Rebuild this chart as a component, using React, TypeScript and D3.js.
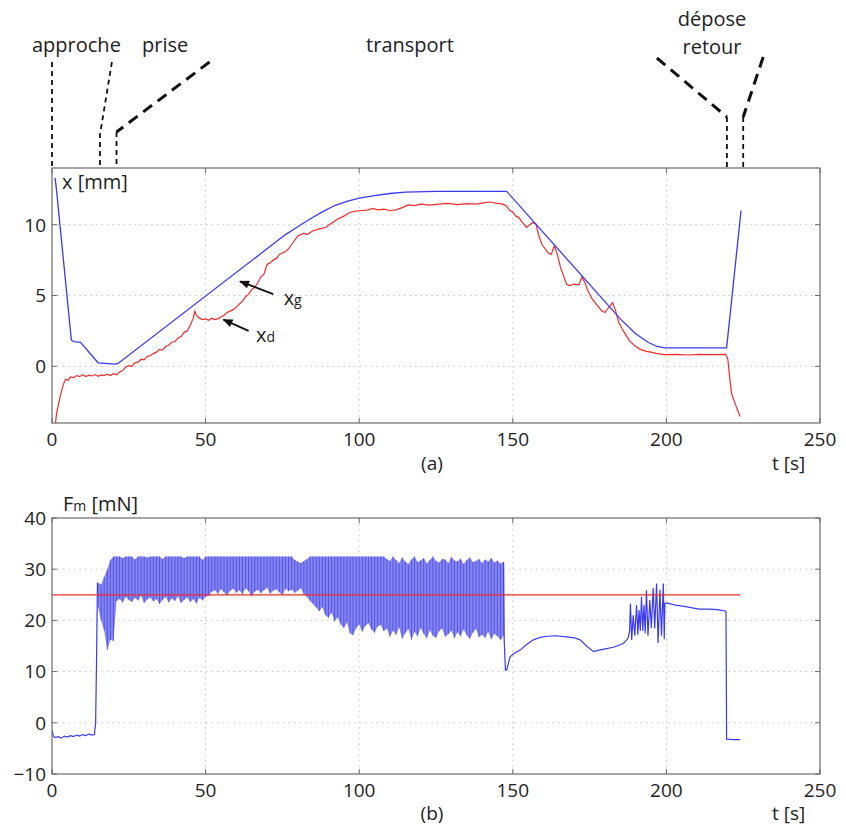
import React from 'react';
import * as d3 from 'd3';

// ---------- data ----------
const xTicks = [0, 50, 100, 150, 200, 250];
const xTickLabels = ['0', '50', '100', '150', '200', '250'];
const topYTicks = [0, 5, 10];
const topYTickLabels = ['0', '5', '10'];
const botYTicks = [-10, 0, 10, 20, 30, 40];
const botYTickLabels = ['\u221210', '0', '10', '20', '30', '40'];

const phaseNames = ['approche', 'prise', 'transport', 'dépose', 'retour'];
const phaseTimes = [0, 15.6, 21, 219.7, 225];

// x_g (blue) [t, mm]
const xgSeries: [number, number][] = [
  [1.0, 13.3], [1.4, 12.6], [6.3, 1.85], [7.2, 1.75], [9.3, 1.7], [15.0, 0.25], [20.5, 0.15], [21.5, 0.2],
  [76, 9.3], [80, 9.85], [84, 10.4], [88, 10.9], [92, 11.35], [96, 11.65], [100, 11.87], [105, 12.05],
  [110, 12.2], [115, 12.3], [125, 12.35], [148, 12.35], [185, 3.35], [190, 2.3], [194, 1.7], [197, 1.4],
  [199.5, 1.3], [219.6, 1.3], [224.3, 11.0],
];

// x_d (red) [t, mm]
const xdSeries: [number, number][] = [
  [1.0, -4.3], [1.5, -3.3], [2.2, -2.6], [2.8, -2.0], [3.4, -1.5], [4.0, -1.1], [4.5, -0.9], [5.2, -1.0],
  [6.0, -0.75], [7.0, -0.8], [8, -0.65], [9, -0.72], [10, -0.6], [11, -0.72], [12, -0.62], [13, -0.68],
  [14, -0.58], [15, -0.7], [16, -0.6], [17, -0.66], [18, -0.55], [19, -0.65], [20, -0.52], [21, -0.6],
  [22, -0.4], [23, -0.3], [24, -0.05], [25, 0.05], [26, 0.0], [27, 0.25], [28, 0.3], [29, 0.5], [30, 0.45],
  [31, 0.7], [32, 0.75], [33, 0.9], [34, 1.0], [35, 1.2], [36, 1.15], [37, 1.4], [38, 1.5], [39, 1.7],
  [40, 1.75], [41, 2.0], [42, 2.1], [43, 2.4], [44, 2.5], [45, 2.9], [46, 3.4], [46.5, 3.9], [47, 3.6],
  [48, 3.4], [49, 3.3], [50, 3.35], [51, 3.25], [52, 3.4], [53, 3.3], [54, 3.35], [55, 3.5], [56, 3.6],
  [57, 3.8], [58, 3.9], [59, 4.0], [60, 4.2], [61, 4.4], [62, 4.6], [63, 4.9], [64, 5.1], [65, 5.4],
  [66, 5.6], [67, 5.9], [68, 6.3], [69, 6.5], [70, 7.2], [71, 7.3], [72, 7.5], [73, 7.6], [74, 7.9],
  [75, 8.0], [76, 8.1], [77, 8.3], [78, 8.6], [79, 8.9], [80, 9.2], [82, 9.4], [83, 9.3], [85, 9.57],
  [87, 9.7], [89, 9.8], [91, 10.1], [93, 10.4], [95, 10.6], [97, 10.88], [99, 10.95], [101, 11.0],
  [103, 11.05], [104.5, 11.15], [106, 11.05], [108, 11.1], [110, 11.0], [112, 11.04], [114, 11.2],
  [116, 11.4], [118, 11.35], [120, 11.45], [123, 11.38], [126, 11.45], [129, 11.5], [132, 11.42],
  [135, 11.48], [138, 11.45], [140, 11.52], [142.5, 11.6], [145, 11.5], [146.8, 11.45], [148, 11.3],
  [149, 11.0], [150, 10.9], [151, 10.6], [152, 10.5], [153, 10.2], [154.5, 9.8], [155.5, 10.0],
  [156.5, 10.15], [157.5, 10.05], [158.5, 9.2], [159.5, 8.6], [160.5, 8.3], [161.5, 8.0], [162.5, 7.9],
  [163.5, 8.5], [164.5, 7.9], [165.5, 7.0], [166.5, 6.4], [167.5, 5.8], [168.5, 5.7], [170, 5.8],
  [171.5, 5.75], [172.5, 6.3], [173.5, 5.9], [174.5, 5.3], [176, 4.7], [177.5, 4.3], [179, 3.9],
  [180, 3.8], [181, 4.1], [182.5, 4.5], [183.5, 3.9], [184.5, 3.1], [186, 2.5], [188, 1.8], [190, 1.4],
  [191.5, 1.2], [193.5, 1.06], [195, 1.0], [197, 0.9], [199.5, 0.83], [203, 0.85], [207, 0.8],
  [211, 0.85], [215, 0.82], [219.3, 0.85], [220, 0.5], [220.6, -0.8], [221.2, -1.9], [222, -2.4],
  [223, -3.0], [224, -3.55],
];

// F_m before the oscillating phase [t, mN]
const fmStart: [number, number][] = [
  [0, -1.5], [0.5, -2.6], [1, -2.9], [2, -2.7], [3, -3.0], [4, -2.6], [5, -2.8], [6, -2.5], [7, -2.7],
  [8, -2.4], [9, -2.6], [10, -2.3], [11, -2.5], [12, -2.2], [13, -2.4], [13.8, -2.3], [14.2, 0],
  [14.5, 12], [14.8, 27.3], [15, 27.3],
];
// oscillating phase: one trough/peak per second from t = 15 s
const fmOscStart = 15;
const fmOscLow = [
  22.7, 20, 18, 14.2, 16.2, 16,
  23.8, 24.2, 23.5, 24.6, 24.0, 23.6, 24.4, 23.9, 24.8, 23.4, 24.1, 24.5, 23.7, 24.2, 23.2,
  24.0, 24.6, 23.5, 24.3, 23.8, 24.7, 23.4, 24.0, 24.5, 23.6, 24.2, 23.3, 24.4, 23.9, 24.6,
  24.8, 25.6, 25.9, 25.2, 26.1, 25.5, 24.9, 25.8, 26.2, 25.4, 25.9, 25.1, 26.3, 25.7, 24.7,
  25.6, 26.0, 25.3, 25.9, 26.4, 25.2, 25.8, 26.1, 25.5, 24.9, 26.2, 25.7, 26.0, 25.4, 25.8,
  26.3, 25.1, 24.6, 23.8,
  23.2, 22.5, 21.8, 22.6, 21.0, 20.5, 21.5, 19.8, 20.6, 19.2, 18.5, 19.6, 17.5, 17.1,
  18.5, 19.2, 17.8, 18.9, 19.5, 18.2, 17.6, 18.8, 19.1, 17.9, 18.4, 16.8, 18.0, 17.2, 18.6,
  16.4, 17.5, 18.3, 16.2, 17.8, 16.9, 18.5, 17.4, 16.5, 18.1, 17.0, 16.6, 17.9, 18.4, 16.8,
  17.3, 18.0, 16.5, 17.7, 16.9, 18.2, 17.1, 16.4, 17.6, 18.3, 16.7, 17.2, 16.6, 17.8, 16.3,
  17.4, 16.9, 16.2, 17.0,
];
const fmOscHigh = [
  27.3, 27, 28.5, 30, 31.8, 32.5,
  32.5, 32.5, 32.2, 32.5, 32.5, 32.5, 31.9, 32.5, 32.5, 32.5, 32.3, 32.5, 32.5, 32.5, 32.5,
  32.0, 32.5, 32.5, 32.5, 32.5, 32.5, 32.5, 32.2, 32.5, 32.5, 32.5, 32.5, 32.5, 31.8, 32.5,
  32.5, 32.5, 32.5, 32.5, 32.5, 32.5, 32.5, 32.5, 32.5, 32.5, 32.5, 32.5, 32.5, 32.5, 32.5,
  32.5, 32.5, 32.5, 32.5, 32.5, 32.5, 32.5, 32.5, 32.5, 32.5, 32.5, 32.5, 32.5, 31.8, 31.5,
  31.2, 31.6, 32.0, 32.5,
  32.5, 32.5, 32.5, 32.5, 32.5, 32.5, 32.5, 32.5, 32.5, 32.5, 32.5, 32.5, 32.5, 32.5,
  32.5, 32.5, 32.5, 32.5, 32.5, 32.5, 32.5, 32.5, 32.5, 32.5,
  32.0, 31.6, 32.5, 31.8, 31.2, 32.3, 31.5, 31.0, 31.9, 32.5, 31.4, 31.7, 32.2, 31.1, 31.8,
  32.5, 31.6, 31.3, 32.0, 31.9, 31.2, 32.4, 31.7, 31.5, 32.1, 31.0, 31.8, 32.3, 31.4, 31.6,
  32.0, 31.2, 31.9, 31.5, 32.2, 31.3, 31.7, 31.1, 31.4,
];
// F_m after the oscillating phase [t, mN]
const fmEnd: [number, number][] = [
  [147, 31.4], [147.2, 16.2], [147.6, 10.3], [148, 10.3], [149.1, 12.9], [150.5, 13.6], [152.4, 14.2],
  [154.5, 15.3], [156.7, 16.2], [159, 16.7], [161.1, 16.9], [164, 17.0], [167.6, 16.8], [170, 16.6],
  [171.9, 16.2], [174, 15.0], [176.3, 13.9], [178, 14.2], [180.6, 14.5], [183, 14.8], [186, 15.5],
  [187.5, 16.5], [188.0, 17.8], [188.3, 23.3], [188.7, 16.2], [189.2, 21], [189.7, 17], [190.3, 23],
  [190.7, 17.2], [191.1, 22], [191.5, 18], [191.9, 24.6], [192.3, 18], [192.7, 23], [193.1, 17.5],
  [193.5, 25.9], [194, 17], [194.6, 24], [195.1, 18.5], [195.7, 26.3], [196.2, 18.4], [196.8, 27.2],
  [197.3, 15.6], [197.9, 26], [198.4, 17], [199, 27.2], [199.3, 16.3], [199.5, 23.3], [200, 23.4],
  [203, 23.0], [206.3, 22.7], [210.6, 22.2], [214, 22.2], [216.6, 22.1], [219.4, 21.8], [219.6, -3.2],
  [222, -3.3], [224, -3.3],
];
const fmRef = 25;
const fmRefRange = [0, 224];

// ---------- layout ----------
const W = 846, H = 830;
const FONT = "'Open Sans', 'DejaVu Sans', sans-serif";
const BLUE = '#3a3af2';
const RED = '#ef2b2b';
const X0 = 52, X1 = 820;
const TOP = { y0: 168, y1: 423 };
const BOT = { y0: 518, y1: 774 };

const xs = d3.scaleLinear().domain([0, 250]).range([X0, X1]);
const yTop = d3.scaleLinear().domain([-4, 14]).range([TOP.y1, TOP.y0]);
const yBot = d3.scaleLinear().domain([-10, 40]).range([BOT.y1, BOT.y0]);

function Frame({ y, y0, y1, gridY }: any) {
  return (
    <g>
      {xTicks.filter((t) => t > 0 && t < 250).map((t) => (
        <line key={'gx' + t} x1={xs(t)} x2={xs(t)} y1={y0} y2={y1} stroke="#c4c4c4" strokeWidth={1} strokeDasharray="1.5,4" />
      ))}
      {gridY.map((v: number) => (
        <line key={'gy' + v} x1={X0} x2={X1} y1={y(v)} y2={y(v)} stroke="#c4c4c4" strokeWidth={1} strokeDasharray="1.5,4" />
      ))}
    </g>
  );
}

function Axes({ y, y0, y1, yTicks, yLabels }: any) {
  return (
    <g>
      <rect x={X0} y={y0} width={X1 - X0} height={y1 - y0} fill="none" stroke="#6a6a6a" strokeWidth={1.2} />
      {xTicks.map((t, i) => (
        <g key={'xt' + t}>
          <line x1={xs(t)} x2={xs(t)} y1={y1} y2={y1 - 5} stroke="#6a6a6a" />
          <line x1={xs(t)} x2={xs(t)} y1={y0} y2={y0 + 5} stroke="#6a6a6a" />
          <text x={xs(t)} y={y1 + 23} textAnchor="middle" fontSize={19} fontFamily={FONT} fill="#222">{xTickLabels[i]}</text>
        </g>
      ))}
      {yTicks.map((v: number, i: number) => (
        <g key={'yt' + v}>
          <line x1={X0} x2={X0 + 5} y1={y(v)} y2={y(v)} stroke="#6a6a6a" />
          <line x1={X1} x2={X1 - 5} y1={y(v)} y2={y(v)} stroke="#6a6a6a" />
          <text x={46} y={y(v)} dy="0.36em" textAnchor="end" fontSize={19} fontFamily={FONT} fill="#222">{yLabels[i]}</text>
        </g>
      ))}
    </g>
  );
}

export default function App() {
  const lineTop = d3.line<[number, number]>().x((d) => xs(d[0])).y((d) => yTop(d[1]));
  const lineBot = d3.line<[number, number]>().x((d) => xs(d[0])).y((d) => yBot(d[1]));
  const oscIdx = fmOscLow.map((_, i) => i);
  const band = d3.area<number>()
    .x((i) => xs(fmOscStart + i))
    .y0((i) => yBot(fmOscLow[i]))
    .y1((i) => yBot(fmOscHigh[i]));

  const thin = { stroke: '#111', strokeWidth: 1.8, strokeDasharray: '5,4', fill: 'none' };
  const thick = { stroke: '#111', strokeWidth: 3, strokeDasharray: '11,7', fill: 'none' };
  const xp = phaseTimes.map((t) => xs(t));

  return (
    <svg width={W} height={H} style={{ position: 'absolute', left: 0, top: 0, display: 'block', background: '#fff' }}>
      <defs>
        <clipPath id="clipTop"><rect x={X0} y={TOP.y0} width={X1 - X0} height={TOP.y1 - TOP.y0} /></clipPath>
        <clipPath id="clipBot"><rect x={X0} y={BOT.y0} width={X1 - X0} height={BOT.y1 - BOT.y0} /></clipPath>
        <marker id="arr" viewBox="0 0 10 8" refX="9" refY="4" markerWidth="11" markerHeight="8" markerUnits="userSpaceOnUse" orient="auto">
          <path d="M0,0 L10,4 L0,8 z" fill="#111" />
        </marker>
      </defs>

      {/* phase annotations */}
      <g fontFamily={FONT} fontSize={20} fill="#222">
        <text x={32} y={52}>{phaseNames[0]}</text>
        <text x={142} y={52}>{phaseNames[1]}</text>
        <text x={410} y={52} textAnchor="middle">{phaseNames[2]}</text>
        <text x={712} y={26} textAnchor="middle">{phaseNames[3]}</text>
        <text x={712} y={54} textAnchor="middle">{phaseNames[4]}</text>
      </g>
      <path d={`M${xp[0]},62 L${xp[0]},${TOP.y0}`} {...thin} />
      <path d={`M${xp[1] + 12},62 L${xp[1]},135 L${xp[1]},${TOP.y0}`} {...thin} />
      <path d={`M${xp[2] + 93},62 L${xp[2]},132`} {...thick} />
      <path d={`M${xp[2]},132 L${xp[2]},${TOP.y0}`} {...thin} />
      <path d={`M${xp[3] - 70},58 L${xp[3]},117`} {...thick} />
      <path d={`M${xp[3]},117 L${xp[3]},${TOP.y0}`} {...thin} />
      <path d={`M${xp[4] + 20},57 L${xp[4]},117`} {...thick} />
      <path d={`M${xp[4]},117 L${xp[4]},${TOP.y0}`} {...thin} />

      {/* panel (a) */}
      <Frame y={yTop} y0={TOP.y0} y1={TOP.y1} gridY={topYTicks} />
      <g clipPath="url(#clipTop)">
        <path d={lineTop(xdSeries) || ''} fill="none" stroke={RED} strokeWidth={1.2} />
        <path d={lineTop(xgSeries) || ''} fill="none" stroke={BLUE} strokeWidth={1.3} />
      </g>
      <Axes y={yTop} y0={TOP.y0} y1={TOP.y1} yTicks={topYTicks} yLabels={topYTickLabels} />
      <text x={62} y={189} fontFamily={FONT} fontSize={20} fill="#222">x [mm]</text>
      <line x1={xs(72)} y1={yTop(5.1)} x2={xs(61.2)} y2={yTop(6.0)} stroke="#111" strokeWidth={1.8} markerEnd="url(#arr)" />
      <line x1={xs(64)} y1={yTop(2.5)} x2={xs(55.8)} y2={yTop(3.3)} stroke="#111" strokeWidth={1.8} markerEnd="url(#arr)" />
      <text x={xs(75.4)} y={yTop(4.35)} fontFamily={FONT} fontSize={20} fill="#222">x<tspan fontSize={14}>g</tspan></text>
      <text x={xs(66.4)} y={yTop(1.7)} fontFamily={FONT} fontSize={20} fill="#222">x<tspan fontSize={14}>d</tspan></text>
      <text x={432} y={470} textAnchor="middle" fontFamily={FONT} fontSize={19} fill="#222">(a)</text>
      <text x={772} y={470} fontFamily={FONT} fontSize={19} fill="#222">t [s]</text>

      {/* panel (b) */}
      <Frame y={yBot} y0={BOT.y0} y1={BOT.y1} gridY={[0, 10, 20, 30]} />
      <g clipPath="url(#clipBot)">
        <path d={band(oscIdx) || ''} fill="#8585f5" stroke="none" />
        {oscIdx.map((i) => (
          <line key={'sp' + i} x1={xs(fmOscStart + i)} x2={xs(fmOscStart + i)} y1={yBot(fmOscLow[i])} y2={yBot(fmOscHigh[i])} stroke="#3030c4" strokeWidth={0.8} strokeOpacity={0.7} />
        ))}
        <path d={lineBot(fmStart) || ''} fill="none" stroke={BLUE} strokeWidth={1.2} />
        <path d={lineBot(fmEnd) || ''} fill="none" stroke={BLUE} strokeWidth={1.2} />
        <line x1={xs(fmRefRange[0])} x2={xs(fmRefRange[1])} y1={yBot(fmRef)} y2={yBot(fmRef)} stroke={RED} strokeWidth={1.2} />
      </g>
      <Axes y={yBot} y0={BOT.y0} y1={BOT.y1} yTicks={botYTicks} yLabels={botYTickLabels} />
      <text x={63} y={511} fontFamily={FONT} fontSize={20} fill="#222">F<tspan fontSize={14}>m</tspan> [mN]</text>
      <text x={432} y={820} textAnchor="middle" fontFamily={FONT} fontSize={19} fill="#222">(b)</text>
      <text x={772} y={820} fontFamily={FONT} fontSize={19} fill="#222">t [s]</text>
    </svg>
  );
}
